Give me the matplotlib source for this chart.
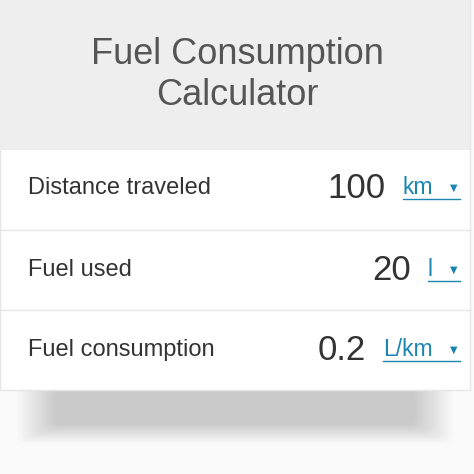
import matplotlib.pyplot as plt
from matplotlib.patches import Rectangle, FancyBboxPatch

plt.rcParams['font.family'] = ['Liberation Sans', 'DejaVu Sans']

title = "Fuel Consumption\nCalculator"
labels = ["Distance traveled", "Fuel used", "Fuel consumption"]
values = ["100", "20", "0.2"]
units = ["km", "l", "L/km"]

fig = plt.figure(figsize=(4.74, 4.74), dpi=100)
ax = fig.add_axes([0, 0, 1, 1])
ax.set_xlim(0, 474)
ax.set_ylim(474, 0)
ax.axis("off")
fig.patch.set_facecolor("#fafafa")

# soft shadow under the card
for i in range(16):
    ax.add_patch(FancyBboxPatch((25 + i * 2.5, 385 + i * 0.8), 420 - i * 5, 50 - i * 2,
                                boxstyle="round,pad=8", fc="#000000", ec="none", alpha=0.01))
ax.add_patch(Rectangle((0, 0), 470, 390, fc="white", ec="#e6e6e6", lw=1))
ax.add_patch(Rectangle((0, 0), 470, 150, fc="#eeeeee", ec="none"))
ax.text(237, 75, title, ha="center", va="center", fontsize=26, color="#555555",
        linespacing=1.2)

row_y = [188, 270, 350]
val_right = [386, 411, 366]
for i in range(3):
    y = row_y[i]
    if i > 0:
        ax.plot([0, 470], [y - 40, y - 40], color="#e6e6e6", lw=1)
    ax.text(28, y, labels[i], ha="left", va="center", fontsize=17, color="#333333")
    ax.text(val_right[i], y + 1, values[i], ha="right", va="center", fontsize=25, color="#333333")
    ux = val_right[i] + 17
    ax.text(ux, y, units[i], ha="left", va="center", fontsize=16.5, color="#1a86b0")
    ax.text(457, y, "▼", ha="right", va="center", fontsize=7, color="#1a86b0",
            family="DejaVu Sans")
    ax.plot([ux, 460], [y + 11, y + 11], color="#1a86b0", lw=1)

fig.savefig("out.png", dpi=100, facecolor=fig.get_facecolor())
